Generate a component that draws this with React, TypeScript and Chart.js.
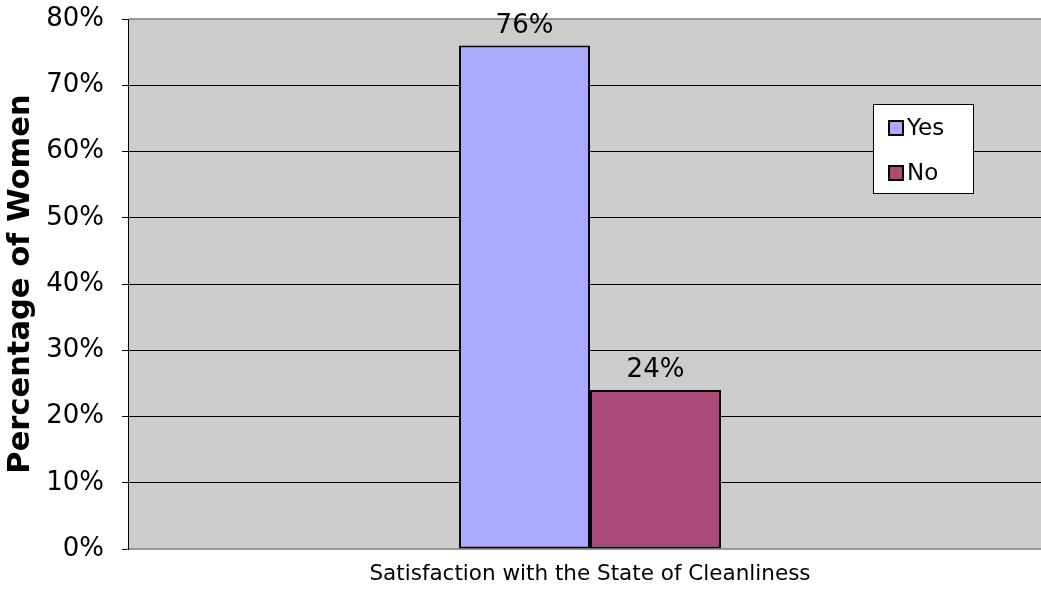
import React, { useEffect, useRef } from "react";
import { Chart, registerables } from "chart.js";

Chart.register(...registerables);

const categories: string[] = [""];
const seriesNames: string[] = ["Yes", "No"];
const yesValues: number[] = [76];
const noValues: number[] = [24];
const seriesColors: string[] = ["#AAAAFF", "#AA4A78"];
const xTitle = "Satisfaction with the State of Cleanliness";
const yTitle = "Percentage of Women";

const FONT = "'DejaVu Sans', Verdana, sans-serif";

const bgPlugin = {
  id: "plotBg",
  beforeDraw(chart: any) {
    const { ctx, chartArea } = chart;
    ctx.save();
    ctx.fillStyle = "#CCCCCC";
    ctx.fillRect(chartArea.left, chartArea.top, chartArea.right - chartArea.left, chartArea.bottom - chartArea.top);
    ctx.restore();
  },
  afterDraw(chart: any) {
    const { ctx, chartArea } = chart;
    ctx.save();
    ctx.strokeStyle = "#999999";
    ctx.lineWidth = 2;
    ctx.beginPath();
    ctx.moveTo(chartArea.left + 1, chartArea.top);
    ctx.lineTo(chartArea.right, chartArea.top);
    ctx.lineTo(chartArea.right, chartArea.bottom);
    ctx.stroke();

    ctx.fillStyle = "#000";
    ctx.font = `26px ${FONT}`;
    ctx.textAlign = "center";
    ctx.textBaseline = "alphabetic";
    chart.data.datasets.forEach((ds: any, i: number) => {
      const meta = chart.getDatasetMeta(i);
      meta.data.forEach((bar: any, j: number) => {
        const v = ds.data[j];
        ctx.fillText(`${v}%`, bar.x, bar.y - 13);
      });
    });

    const lx = 873, ly = 104, lw = 100, lh = 89;
    ctx.fillStyle = "#FFFFFF";
    ctx.fillRect(lx, ly, lw, lh);
    ctx.strokeStyle = "#000";
    ctx.lineWidth = 1;
    ctx.strokeRect(lx + 0.5, ly + 0.5, lw, lh);
    ctx.textAlign = "left";
    ctx.textBaseline = "middle";
    ctx.font = `23px ${FONT}`;
    chart.data.datasets.forEach((ds: any, i: number) => {
      const cy = ly + 24 + i * 45;
      ctx.fillStyle = ds.backgroundColor;
      ctx.fillRect(889, cy - 7, 14, 14);
      ctx.strokeStyle = "#000";
      ctx.lineWidth = 2;
      ctx.strokeRect(889, cy - 7, 14, 14);
      ctx.fillStyle = "#000";
      ctx.fillText(ds.label, 907, cy + 1);
    });
    ctx.restore();
  },
};

export default function App() {
  const ref = useRef<HTMLCanvasElement | null>(null);
  useEffect(() => {
    if (!ref.current) return;
    const chart = new Chart(ref.current, {
      type: "bar",
      data: {
        labels: categories,
        datasets: [
          {
            label: seriesNames[0],
            data: yesValues,
            backgroundColor: seriesColors[0],
            borderColor: "#000",
            borderWidth: 2,
            borderSkipped: false,
          },
          {
            label: seriesNames[1],
            data: noValues,
            backgroundColor: seriesColors[1],
            borderColor: "#000",
            borderWidth: 2,
            borderSkipped: false,
          },
        ],
      },
      options: {
        animation: false,
        responsive: false,
        maintainAspectRatio: false,
        layout: { padding: { top: 19, right: 0, left: 0, bottom: 0 } },
        plugins: {
          legend: { display: false },
          tooltip: { enabled: false },
        },
        datasets: {
          bar: { categoryPercentage: 0.2835, barPercentage: 1 },
        },
        scales: {
          x: {
            ticks: { display: false },
            grid: { display: false },
            border: { display: true, color: "#999999", width: 2 },
            title: {
              display: true,
              text: xTitle,
              color: "#000",
              font: { family: FONT, size: 21.5 },
              padding: { top: 10, bottom: 14 },
            },
            afterFit: (scale: any) => {
              scale.height = 52;
              scale.paddingLeft = 0;
              scale.paddingRight = 0;
            },
          },
          y: {
            min: 0,
            max: 80,
            ticks: {
              stepSize: 10,
              color: "#000",
              padding: 18,
              font: { family: FONT, size: 26 },
              callback: (v: any) => `${v}%`,
            },
            grid: { color: "#000", lineWidth: 1, tickLength: 6, drawTicks: true },
            border: { display: true, color: "#000", width: 1 },
            title: {
              display: true,
              text: yTitle,
              color: "#000",
              font: { family: FONT, size: 30.5, weight: "bold" },
              padding: { top: 3, bottom: 0 },
            },
            afterFit: (scale: any) => {
              scale.width = 128;
              scale.paddingTop = 0;
              scale.paddingBottom = 0;
            },
          },
        },
      },
      plugins: [bgPlugin],
    });
    return () => chart.destroy();
  }, []);
  return (
    <div style={{ position: "fixed", left: 0, top: 0, width: 1041, height: 601, overflow: "hidden", background: "#fff" }}>
      <canvas ref={ref} width={1052} height={601} style={{ width: 1052, height: 601, display: "block" }} />
    </div>
  );
}
